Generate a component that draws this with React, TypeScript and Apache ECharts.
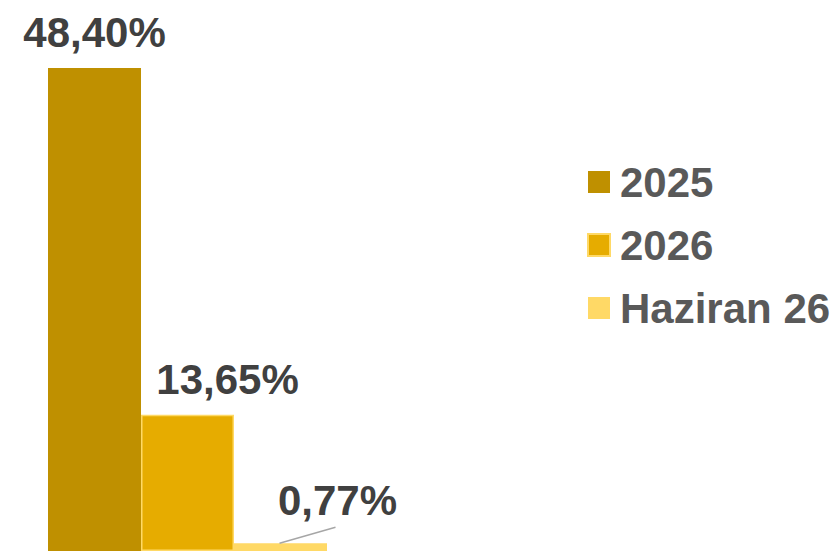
import React, { useEffect, useRef } from "react";
import * as echarts from "echarts";

const categories = [""];
const seriesNames = ["2025", "2026", "Haziran 26"];
const values2025 = [48.4];
const values2026 = [13.65];
const valuesHaziran = [0.77];
const colors = ["#BF9000", "#E6AC00", "#FFD966"];

const fmt = (v: number) => v.toFixed(2).replace(".", ",") + "%";

export default function App() {
  const ref = useRef<HTMLDivElement>(null);
  useEffect(() => {
    if (!ref.current) return;
    const chart = echarts.init(ref.current, undefined, { renderer: "svg" });
    const labelBase = {
      show: true,
      position: "top" as const,
      distance: 14,
      fontFamily: "Liberation Sans, Arial, sans-serif",
      fontSize: 42,
      fontWeight: "bold" as const,
      color: "#404040",
      formatter: (p: any) => fmt(p.value),
    };
    chart.setOption({
      animation: false,
      grid: { left: 48, width: 279, top: 52, bottom: 6 },
      xAxis: {
        type: "category",
        data: categories,
        show: false,
      },
      yAxis: { type: "value", min: 0, max: 50, show: false },
      legend: {
        orient: "vertical",
        left: 582,
        top: 156,
        itemWidth: 22,
        itemHeight: 22,
        itemGap: 21,
        icon: "rect",
        data: seriesNames,
        textStyle: {
          fontFamily: "Liberation Sans, Arial, sans-serif",
          fontSize: 42,
          lineHeight: 42,
          fontWeight: "bold",
          color: "#595959",
          padding: [0, 0, 0, 5],
        },
      },
      series: [
        {
          name: seriesNames[0],
          type: "bar",
          data: values2025,
          barGap: "0%",
          barCategoryGap: "0%",
          itemStyle: { color: colors[0] },
          label: { ...labelBase },
        },
        {
          name: seriesNames[1],
          type: "bar",
          data: values2026,
          barGap: "0%",
          barCategoryGap: "0%",
          itemStyle: { color: colors[1], borderColor: "#FFD966", borderWidth: 1.5 },
          label: { ...labelBase, offset: [40, 0] },
        },
        {
          name: seriesNames[2],
          type: "bar",
          data: valuesHaziran,
          barGap: "0%",
          barCategoryGap: "0%",
          itemStyle: { color: colors[2] },
          label: { ...labelBase, offset: [57, -8] },
        },
      ],
    });
    // leader line for the displaced 0,77% label, anchored on the bar's computed layout
    try {
      const model: any = (chart as any).getModel();
      const layout = model.getSeriesByIndex(2).getData().getItemLayout(0);
      if (layout) {
        const cx = layout.x + layout.width / 2;
        const top = Math.min(layout.y, layout.y + layout.height);
        chart.setOption({
          graphic: [
            {
              type: "line",
              shape: { x1: cx - 1, y1: top, x2: cx + 55, y2: top - 16 },
              style: { stroke: "#A6A6A6", lineWidth: 1.5 },
              z: 10,
            },
          ],
        });
      }
    } catch (e) {
      // ignore
    }
    return () => chart.dispose();
  }, []);
  return (
    <div
      ref={ref}
      style={{ position: "absolute", left: 0, top: 0, width: 834, height: 557, background: "#fff" }}
    />
  );
}
